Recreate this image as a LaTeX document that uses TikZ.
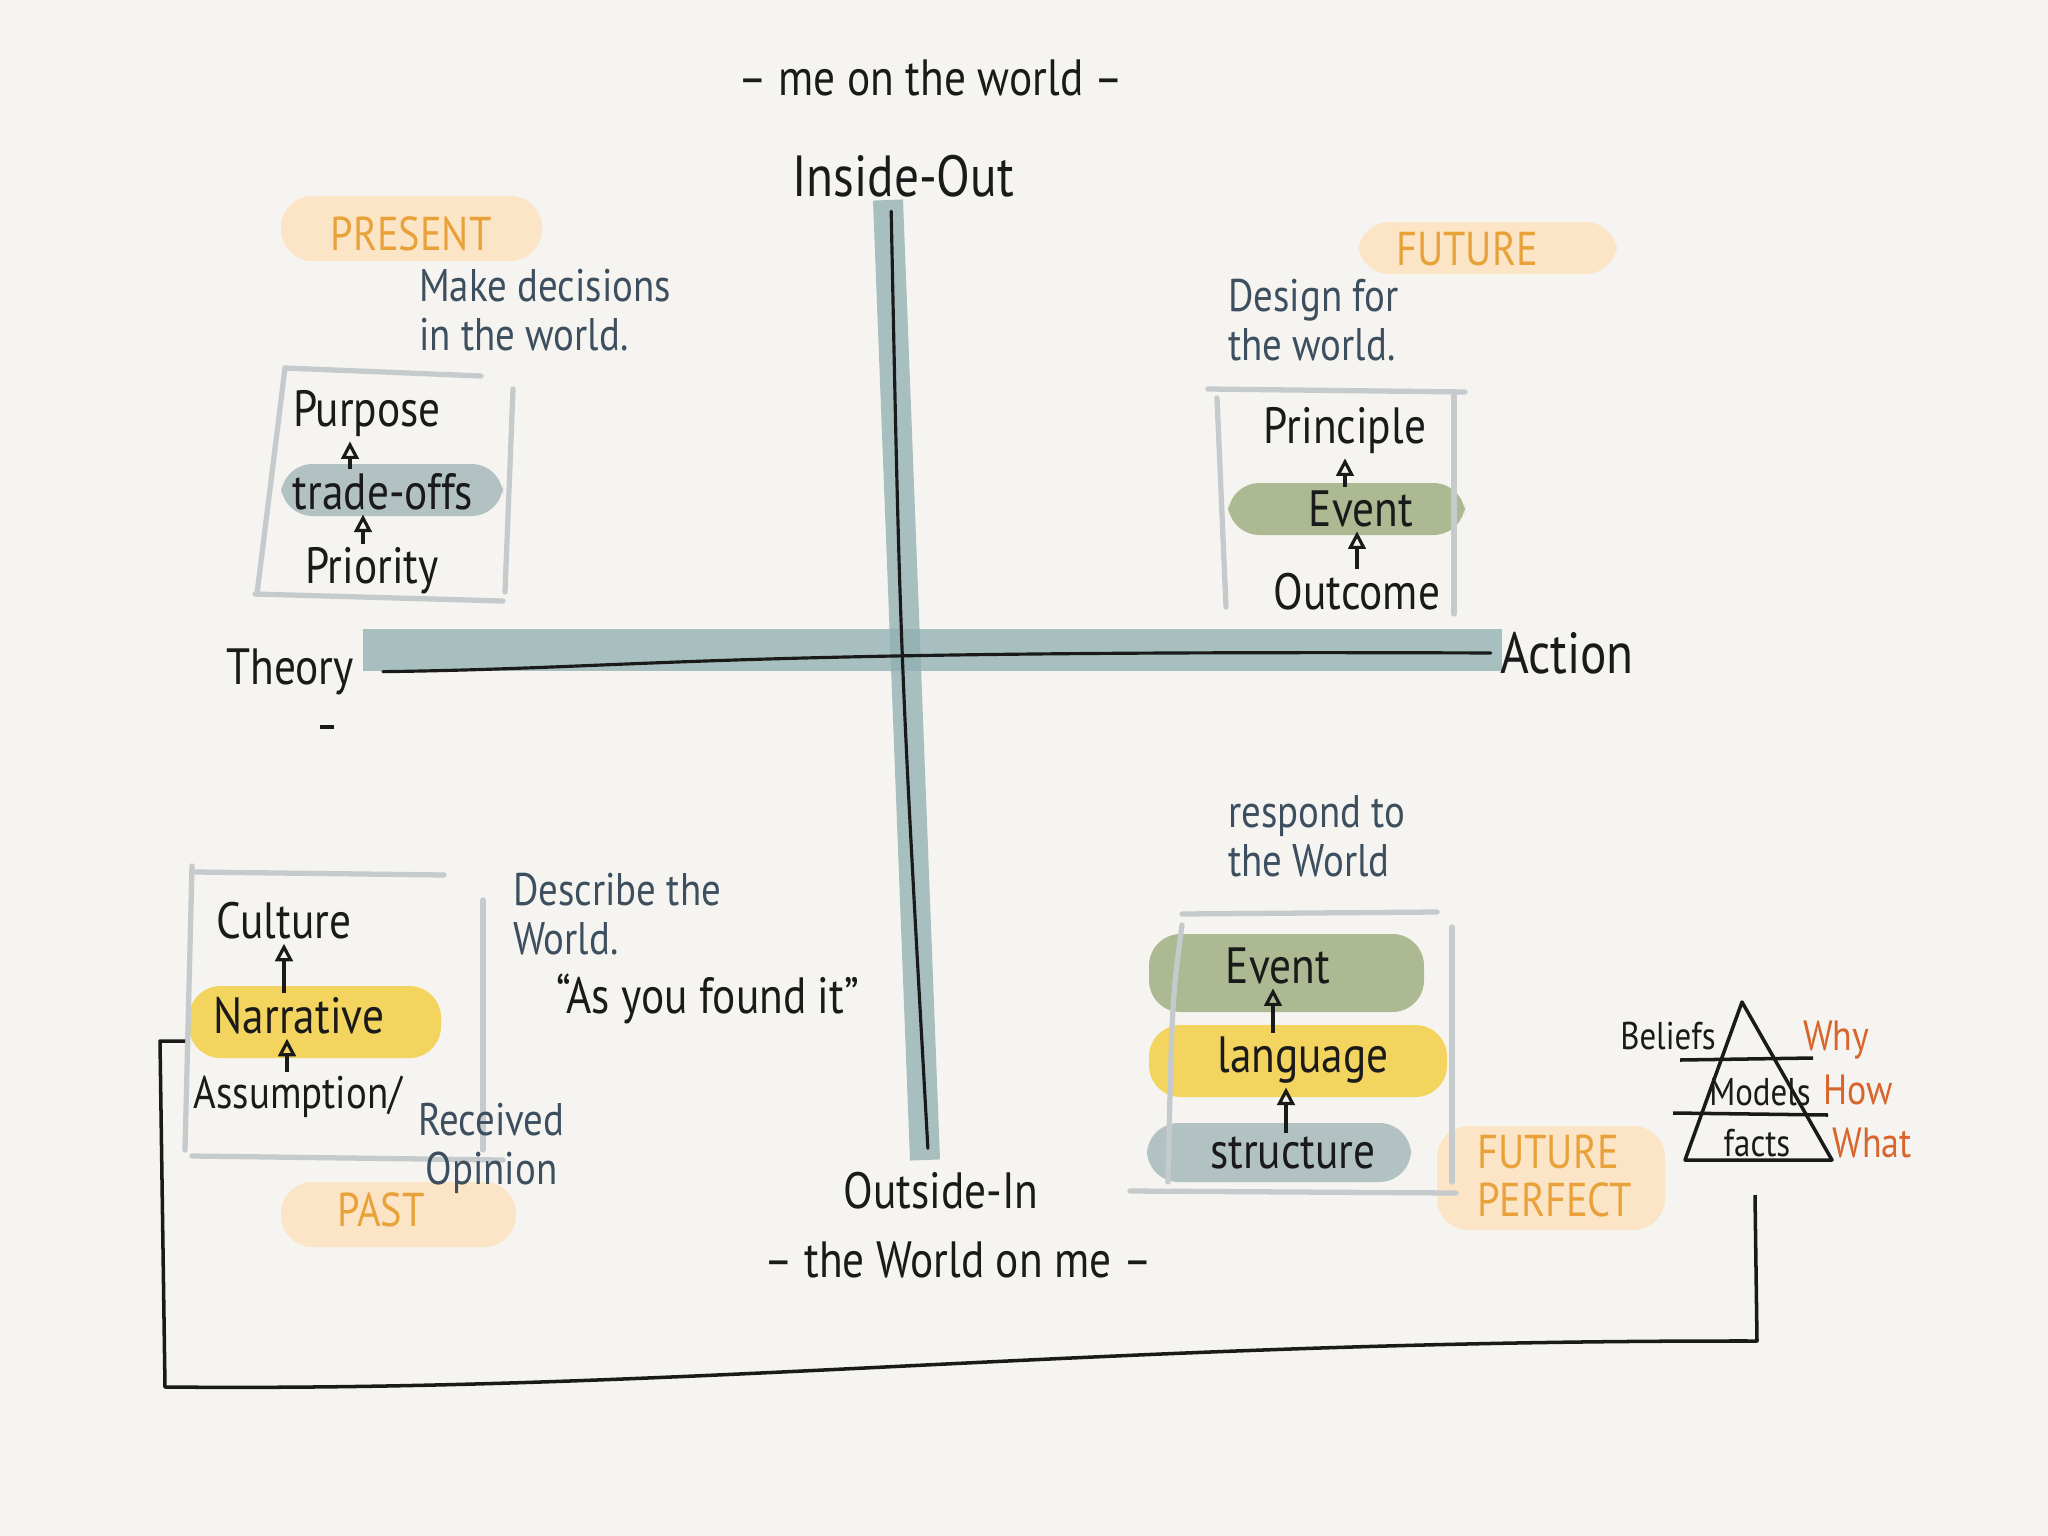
\documentclass[tikz,border=0pt]{standalone}
\usepackage{fontspec}
\setmainfont{PT Sans}[FakeStretch=0.85]
\usetikzlibrary{arrows.meta}
\definecolor{paper}{HTML}{F5F4F0}
\definecolor{ink}{HTML}{1A1A1A}
\definecolor{slate}{HTML}{3D4F5E}
\definecolor{tenseorange}{HTML}{E9A23A}
\definecolor{peach}{HTML}{FCE5C7}
\definecolor{whyred}{HTML}{D8652C}
\definecolor{framegray}{HTML}{C5CACD}
\definecolor{bandteal}{HTML}{8FAEB0}
\definecolor{greyband}{HTML}{B2C1C2}
\definecolor{oliveband}{HTML}{ADB992}
\definecolor{yellowband}{HTML}{F2D45E}
\tikzset{
  lbl/.style={font=\fontsize{14.5}{12}\selectfont, text=ink, inner sep=1pt},
  note/.style={lbl, text=slate, align=left, anchor=west, font=\fontsize{13}{14}\selectfont},
  tense/.style={lbl, text=tenseorange, font=\fontsize{13.5}{13.5}\selectfont},
  layer/.style={font=\fontsize{11}{11}\selectfont, text=ink, inner sep=1pt},
  answer/.style={font=\fontsize{12}{12}\selectfont, text=whyred, inner sep=1pt},
  frame/.style={draw=framegray, line width=1.5pt, line cap=round},
  blob/.style={rounded corners=9pt},
  uparrow/.style={-{Triangle[open,length=5pt,width=5pt]}, line width=0.9pt, draw=ink},
  axisline/.style={line width=0.9pt, line cap=round, draw=ink},
}
\begin{document}
\begin{tikzpicture}[x=0.01cm, y=-0.01cm]
\fill[paper] (0,0) rectangle (2048,1536);
\useasboundingbox (0,0) rectangle (2048,1536);

% coloured washes
\fill[peach, blob] (281,196) rectangle (542,261);
\fill[peach, blob] (1358,222) rectangle (1617,274);
\fill[peach, blob] (281,1182) rectangle (516,1247);
\fill[peach, blob] (1437,1126) rectangle (1665,1230);
\fill[greyband, blob] (281,464) rectangle (503,516);
\fill[oliveband, blob] (1228,483) rectangle (1465,535);
\fill[yellowband, blob] (189,986) rectangle (441,1058);
\fill[oliveband, blob] (1149,934) rectangle (1424,1012);
\fill[yellowband, blob] (1149,1025) rectangle (1447,1097);
\fill[greyband, blob] (1147,1123) rectangle (1411,1182);

% axes
\draw[bandteal, opacity=0.75, line width=0.42cm] (363,650) -- (1502,650);
\draw[bandteal, opacity=0.75, line width=0.3cm] (888,200) -- (925,1160);

% frames
\draw[frame] (285,368) -- (481,376);
\draw[frame] (513,389) -- (505,592);
\draw[frame] (255,594) -- (503,601);
\draw[frame] (285,368) -- (257,594);
\draw[frame] (1208,389) -- (1465,392);
\draw[frame] (1217,398) -- (1226,607);
\draw[frame] (1454,392) -- (1454,614);
\draw[frame] (192,866) -- (185,1150);
\draw[frame] (195,872) -- (444,875);
\draw[frame] (483,900) -- (483,1150);
\draw[frame] (192,1156) -- (503,1160);
\draw[frame] (1182,914) -- (1437,912);
\draw[frame] (1182,925) .. controls (1172,1000) .. (1168,1182);
\draw[frame] (1452,927) -- (1452,1182);
\draw[frame] (1130,1191) -- (1456,1193);

% axis labels
\node[lbl] (meworld) at (931,78) {-- me on the world --};
\node[lbl, font=\fontsize{16.5}{16}\selectfont] (inout) at (903,176) {Inside-Out};
\node[lbl] (theory) at (290,672) {Theory};
\node[lbl, font=\fontsize{16.5}{16}\selectfont] (action) at (1567,653) {Action};
\node[lbl] (outin) at (941,1191) {Outside-In};
\node[lbl] (worldme) at (958,1260) {-- the World on me --};
\draw[axisline, shorten <=0.25cm, shorten >=0.05cm] (theory.east) .. controls (650,668) and (700,650) .. (action.west);
\draw[axisline, shorten <=0.1cm, shorten >=0.2cm] ([xshift=-0.12cm]inout.south) .. controls (900,650) .. ([xshift=-0.12cm]outin.north);
\draw[ink, line width=0.9pt] (320,727) -- (334,727);

% tenses
\node[tense] (present) at (411,234) {PRESENT};
\node[tense] (future) at (1467,249) {FUTURE};
\node[tense] (past) at (381,1210) {PAST};
\node[tense, align=left, anchor=west] (futperf) at (1473,1176) {FUTURE\\PERFECT};

% notes
\node[note] (decide) at (415,310) {Make decisions\\in the world.};
\node[note] (design) at (1224,320) {Design for\\the world.};
\node[note] (describe) at (509,914) {Describe the\\World.};
\node[note] (respond) at (1224,836) {respond to\\the World};
\node[lbl] (found) at (708,999) {``As you found it''};

% present box
\node[lbl] (purpose) at (367,414) {Purpose};
\node[lbl] (tradeoffs) at (383,492) {trade-offs};
\node[lbl] (priority) at (372,571) {Priority};
\draw[uparrow] ([xshift=-0.09cm]priority.north) -- ([xshift=-0.09cm]priority.north |- tradeoffs.south);
\draw[uparrow] ([xshift=-0.33cm]tradeoffs.north) -- ([xshift=-0.33cm]tradeoffs.north |- purpose.south);

% future box
\node[lbl] (principle) at (1345,431) {Principle};
\node[lbl] (eventa) at (1361,509) {Event};
\node[lbl] (outcome) at (1357,592) {Outcome};
\draw[uparrow] (outcome.north) -- (outcome.north |- eventa.south);
\draw[uparrow] (principle.south |- eventa.north) -- (principle.south);

% past box
\node[lbl] (culture) at (284,921) {Culture};
\node[lbl] (narrative) at (299,1016) {Narrative};
\node[lbl, font=\fontsize{13}{12}\selectfont] (assumption) at (298,1097) {Assumption/};
\node[note, align=center] (received) at (414,1148) {Received\\Opinion};
\draw[uparrow] ([xshift=-0.15cm]narrative.north) -- ([xshift=-0.15cm]narrative.north |- culture.south);
\draw[uparrow] ([xshift=-0.11cm]assumption.north) -- ([xshift=-0.11cm]assumption.north |- narrative.south);

% future perfect box
\node[lbl] (eventb) at (1278,966) {Event};
\node[lbl] (language) at (1303,1060) {language};
\node[lbl] (structure) at (1293,1153) {structure};
\draw[uparrow] ([xshift=-0.3cm]language.north) -- ([xshift=-0.3cm]language.north |- eventb.south);
\draw[uparrow] ([xshift=-0.07cm]structure.north) -- ([xshift=-0.07cm]structure.north |- language.south);

% pyramid
\draw[ink, line width=1pt, line join=round] (1685,1160) -- (1742,1002) -- (1832,1160) -- cycle;
\draw[ink, line width=1pt] (1680,1060) -- (1813,1058);
\draw[ink, line width=1pt] (1673,1113) -- (1828,1115);
\node[layer] (beliefs) at (1668,1036) {Beliefs};
\node[layer] (models) at (1760,1092) {Models};
\node[layer] (facts) at (1757,1143) {facts};
\node[answer] (why) at (1836,1040) {Why};
\node[answer] (how) at (1858,1090) {How};
\node[answer] (what) at (1872,1143) {What};

% feedback loop
\coordinate (loopstart) at (1755,1195);
\coordinate (loopend) at (185,1041);
\draw[ink, line width=1pt, line join=round] (loopstart) -- (1757,1341) .. controls (1100,1340) and (700,1392) .. (165,1387) -- (160,1041) -- (loopend);
\end{tikzpicture}
\end{document}
